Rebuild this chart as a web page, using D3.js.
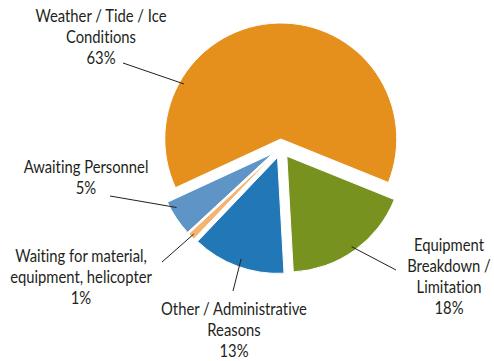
<!DOCTYPE html>
<html>
<head>
<meta charset="utf-8">
<script src="https://cdn.jsdelivr.net/npm/d3@7"></script>
<style>
  html, body { margin: 0; padding: 0; background: #fff; }
  svg text { font-family: Lato, "Noto Sans", sans-serif; fill: #231f20; font-variant-ligatures: none; }
</style>
</head>
<body>
<svg id="chart" width="494" height="361"></svg>
<script>
// Share of delay causes (percent)
const categories = [
  "Weather / Tide / Ice Conditions",
  "Equipment Breakdown / Limitation",
  "Other / Administrative Reasons",
  "Waiting for material, equipment, helicopter",
  "Awaiting Personnel"
];
const values = [63, 18, 13, 1, 5];
const colors = ["#e5901d", "#77921f", "#2277b7", "#f2b46e", "#5f94c7"];

// Label text broken into lines, with placement of each label block
const labelLines = [
  ["Weather / Tide / Ice", "Conditions", "63%"],
  ["Equipment", "Breakdown /", "Limitation", "18%"],
  ["Other / Administrative", "Reasons", "13%"],
  ["Waiting for material,", "equipment, helicopter", "1%"],
  ["Awaiting Personnel", "5%"]
];
const layout = {
  center: [281, 148],
  radius: 116,
  explode: [9, 10, 10, 10, 10],
  labelPos: [[101, 22], [449, 251], [234, 315], [81, 262], [86, 173]],
  lineHeight: 21,
  fontSize: 17,
  condense: 0.87,
  // leader: start point at label, end given as [fraction along slice, fraction of radius]
  leaderStart: [[123, 63], [396, 270], [233, 291], [162, 262], [110, 196]],
  leaderEnd: [[0.24, 0.96], [0.5, 0.96], [0.49, 0.93], [0.5, 0.97], [0.75, 0.95]]
};

const svg = d3.select("#chart");
const deg = Math.PI / 180;

const pie = d3.pie().sort(null).value(d => d)
  .startAngle(-114.8 * deg).endAngle(-114.8 * deg + 2 * Math.PI);
const arcs = pie(values);
const arc = d3.arc().innerRadius(0).outerRadius(layout.radius);

function polar(a, r) { return [Math.sin(a) * r, -Math.cos(a) * r]; }

const g = svg.append("g").attr("transform", `translate(${layout.center[0]},${layout.center[1]})`);

arcs.forEach((d, i) => {
  const mid = (d.startAngle + d.endAngle) / 2;
  const off = polar(mid, layout.explode[i]);
  d.offset = off;
  g.append("path")
    .attr("d", arc(d))
    .attr("transform", `translate(${off[0]},${off[1]})`)
    .attr("fill", colors[i])
    .attr("stroke", "#fff")
    .attr("stroke-width", 1);
});

// Leader lines
arcs.forEach((d, i) => {
  const [t, rf] = layout.leaderEnd[i];
  const a = d.startAngle + (d.endAngle - d.startAngle) * t;
  const p = polar(a, layout.radius * rf);
  const ex = layout.center[0] + d.offset[0] + p[0];
  const ey = layout.center[1] + d.offset[1] + p[1];
  const [sx, sy] = layout.leaderStart[i];
  svg.append("line")
    .attr("x1", sx).attr("y1", sy).attr("x2", ex).attr("y2", ey)
    .attr("stroke", "#231f20").attr("stroke-width", 1);
});

// Labels (horizontally condensed)
labelLines.forEach((lines, i) => {
  const [x, y] = layout.labelPos[i];
  const t = svg.append("text")
    .attr("text-anchor", "middle")
    .attr("font-size", layout.fontSize)
    .attr("transform", `translate(${x},${y}) scale(${layout.condense},1)`);
  lines.forEach((ln, j) => {
    t.append("tspan").attr("x", 0).attr("y", j * layout.lineHeight).text(ln);
  });
});
</script>
</body>
</html>
